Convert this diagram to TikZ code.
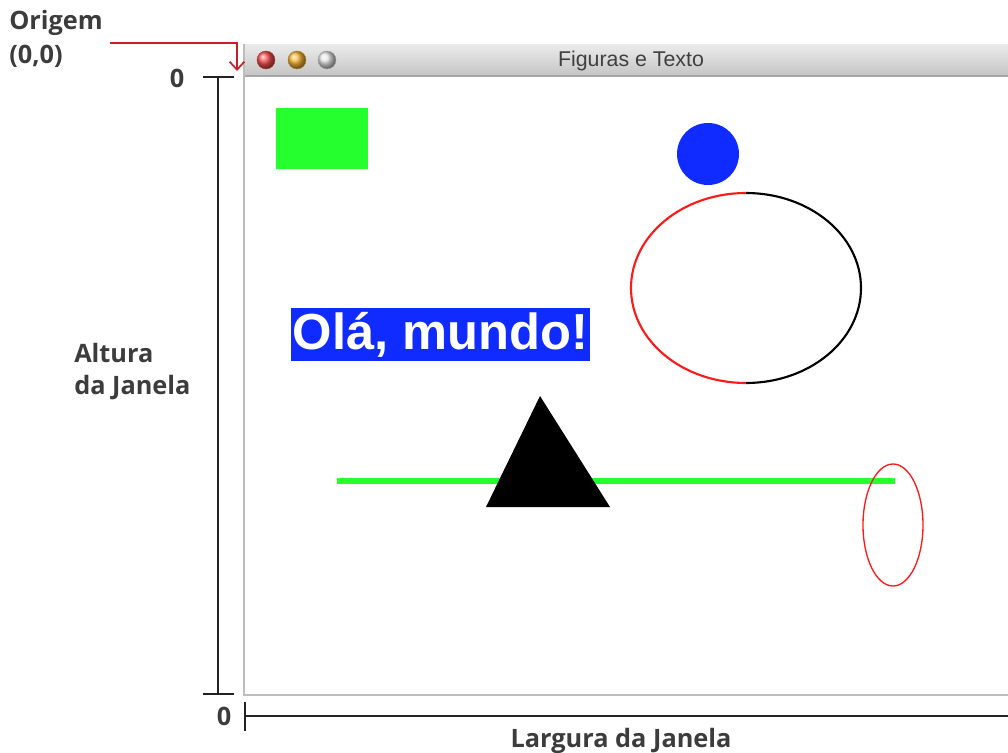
\documentclass[tikz,border=0pt]{standalone}
\usepackage{fontspec}
\setmainfont{Open Sans}
\newfontfamily\winfont{Liberation Sans}
\usetikzlibrary{arrows.meta}
\definecolor{lblgray}{HTML}{3C3C3C}
\definecolor{axisblack}{HTML}{222222}
\definecolor{arrowred}{HTML}{C8202A}
\definecolor{figgreen}{HTML}{26FF2E}
\definecolor{figblue}{HTML}{0F2BFF}
\definecolor{figred}{HTML}{FF1A1A}
\definecolor{tbtop}{HTML}{ECECEC}
\definecolor{tbbot}{HTML}{C4C4C4}
\definecolor{winborder}{HTML}{BDBDBD}
\definecolor{btngray}{HTML}{E4E4E4}
\definecolor{btnorange}{HTML}{F8B838}
\definecolor{btnred}{HTML}{F45050}
\tikzset{
  lbl/.style={font=\bfseries\fontsize{19pt}{22pt}\selectfont, text=lblgray, inner sep=0pt},
  axisline/.style={draw=axisblack, line width=1.8pt},
  btn/.style={circle, minimum size=13.5pt, inner sep=0pt, draw=#1!70!black, line width=0.3pt, ball color=#1},
}
\begin{document}
\begin{tikzpicture}[x=0.75pt,y=-0.75pt]
\useasboundingbox (0,0) rectangle (1008,753);
\fill[white] (0,0) rectangle (1008,753);
% window
\shade[top color=tbtop, bottom color=tbbot] (244,44) rectangle (1008,76);
\draw[color=gray!70, line width=0.8pt] (244,76) -- (1008,76);
\fill[white] (244.5,76.5) rectangle (1008,694.5);
\draw[winborder, line width=0.8pt] (244,44) -- (244,695) -- (1008,695);
\node[btn=btnred] (bred) at (266,60) {};
\node[btn=btnorange] (borange) at (297,60) {};
\node[btn=btngray] (bgray) at (327,60) {};
\node[font=\winfont\fontsize{16pt}{18pt}\selectfont, text=black!75, inner sep=0pt] (title) at (631,61) {Figuras e Texto};
% figures
\fill[figgreen] (276,108) rectangle (368,169);
\fill[figblue] (708,154) circle[radius=23.25pt];
\draw[figred, line width=1.6pt] (746,193) arc[start angle=90, end angle=270, x radius=86.25pt, y radius=71.25pt];
\draw[black, line width=1.6pt] (746,193) arc[start angle=90, end angle=-90, x radius=86.25pt, y radius=71.25pt];
\node[fill=figblue, text=white, font=\winfont\bfseries\fontsize{38pt}{40pt}\selectfont, inner sep=0pt, minimum width=224.25pt, minimum height=39.75pt] (hello) at (440.5,334.5) {Olá, mundo!};
\draw[figgreen, line width=4.5pt] (337,481) -- (895,481);
\fill[black] (540,396) -- (610,507) -- (486,507) -- cycle;
\draw[figred, line width=1pt] (893,525) ellipse[x radius=22.5pt, y radius=45.75pt];
% axes
\draw[axisline] (218,77) -- (218,694);
\draw[axisline] (203,77) -- (234,77);
\draw[axisline] (203,694) -- (234,694);
\draw[axisline] (245,716) -- (1008,716);
\draw[axisline] (245,702) -- (245,731);
% labels
\node[lbl, anchor=west] (origem) at (9,23) {Origem};
\node[lbl, anchor=west] (orig00) at (9,56) {(0,0)};
\node[lbl] (zeroy) at (177,78) {0};
\node[lbl] (zerox) at (224,716) {0};
\node[lbl, anchor=west, align=left] (altura) at (74,372) {Altura\\[2pt]da Janela};
\node[lbl] (largura) at (621,741) {Largura da Janela};
% arrow
\coordinate (astart) at (110,43);
\coordinate (acorner) at (237,43);
\coordinate (aend) at (237,71);
\draw[arrowred, line width=1.3pt, -{Straight Barb[length=6pt,width=11pt]}] (astart) -- (acorner) -- (aend);
\end{tikzpicture}
\end{document}
